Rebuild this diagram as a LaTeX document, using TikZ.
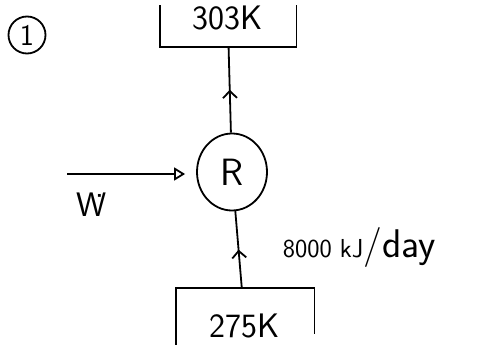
\documentclass[tikz,border=0pt]{standalone}
\usepackage{fontspec}
\usepackage{tikz}
\usetikzlibrary{arrows.meta,shapes.geometric,decorations.markings}

\begin{document}
\begin{tikzpicture}[x=1pt,y=-1pt,line width=1.8pt,font=\sffamily,
    midarrow/.style={postaction={decorate},decoration={markings,
      mark=at position 0.5 with {\arrow{Straight Barb[length=7pt,width=14pt]}}}}]
      \useasboundingbox (0,0) rectangle (487,345);
      \node[draw,circle,minimum size=37pt,inner sep=0pt,font=\sffamily\fontsize{30}{32}\selectfont](one) at (27,35){1};
      % reservoirs
      \node[minimum width=135pt,inner sep=0pt,text height=24pt,text depth=16pt,
            font=\sffamily\fontsize{34}{36}\selectfont](hot) at (228,26){303K};
      \draw (hot.north west) -- (hot.south west) -- (hot.south east) -- (hot.north east);
      \node[minimum width=137pt,minimum height=74pt,font=\sffamily\fontsize{34}{36}\selectfont](cold) at (245,326){275K};
      \draw (cold.south west) -- (cold.north west) -- (cold.north east) -- ([yshift=-46pt]cold.north east);
      % refrigerator
      \node[draw,ellipse,minimum width=70pt,minimum height=77pt,font=\sffamily\fontsize{38}{40}\selectfont](R) at (232,172){R};
      \draw[midarrow] (R) -- (hot);
      \draw[midarrow] (cold) -- (R);
      \coordinate (win) at (67,174);
      \draw[-{Triangle[open,length=11pt,width=13pt]},shorten >=11pt] (win) -- (win -| R.west);
      \node[font=\sffamily\fontsize{34}{36}\selectfont](W) at (92,205){\.W};
      \node[anchor=base west,inner sep=0pt](Q) at (282,257){{\fontsize{26}{28}\selectfont 8000 kJ}{\fontsize{40}{42}\selectfont/day}};
    \end{tikzpicture}
\end{document}
